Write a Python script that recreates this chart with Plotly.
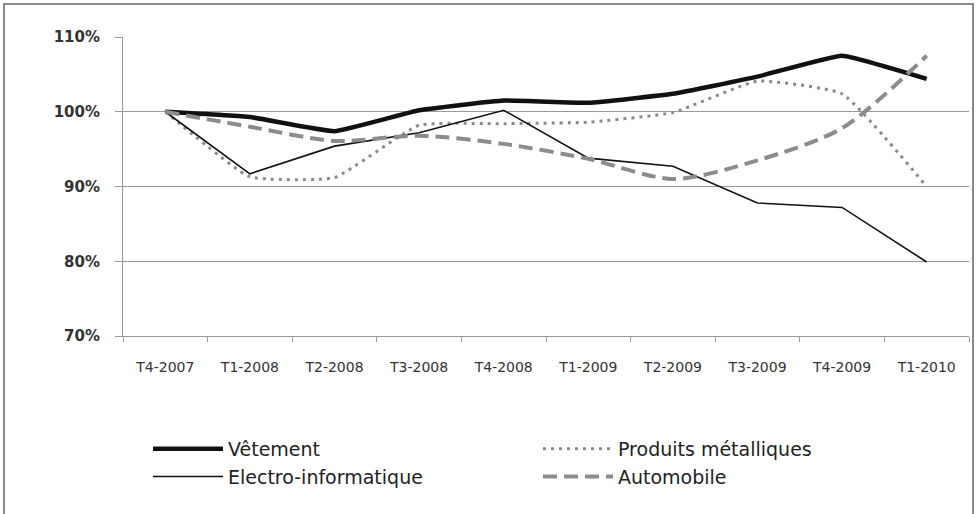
import plotly.graph_objects as go

quarters = ["T4-2007", "T1-2008", "T2-2008", "T3-2008", "T4-2008",
            "T1-2009", "T2-2009", "T3-2009", "T4-2009", "T1-2010"]

vetement = [100.0, 99.3, 97.4, 100.2, 101.5, 101.2, 102.4, 104.7, 107.5, 104.4]
produits_metalliques = [100.0, 91.3, 91.2, 98.2, 98.4, 98.6, 99.9, 104.1, 102.4, 90.0]
electro_informatique = [100.0, 91.7, 95.4, 97.2, 100.2, 93.8, 92.7, 87.8, 87.2, 79.9]
automobile = [100.0, 98.0, 96.1, 96.8, 95.7, 93.7, 91.0, 93.5, 97.8, 107.5]

y_ticks = [70, 80, 90, 100, 110]
y_tick_labels = ["70%", "80%", "90%", "100%", "110%"]

fig = go.Figure()
fig.add_trace(go.Scatter(x=quarters, y=vetement, name="Vêtement", mode="lines",
                         line=dict(color="#111111", width=4.5, shape="spline", smoothing=0.3)))
fig.add_trace(go.Scatter(x=quarters, y=produits_metalliques, name="Produits métalliques", mode="lines",
                         line=dict(color="#8a8a8a", width=3, dash="3px,5px", shape="spline", smoothing=0.4)))
fig.add_trace(go.Scatter(x=quarters, y=electro_informatique, name="Electro-informatique", mode="lines",
                         line=dict(color="#111111", width=1.6)))
fig.add_trace(go.Scatter(x=quarters, y=automobile, name="Automobile", mode="lines",
                         line=dict(color="#8c8c8c", width=4, dash="14px,7px", shape="spline", smoothing=0.8)))

# plot area: left 123, right 969, top 37, bottom 336 (px)
L, R, T, B = 123, 969, 37, 336
W, H = R - L, B - T

fig.add_shape(type="rect", xref="paper", yref="paper",
              x0=(4 - L) / W, x1=(973 - L) / W, y0=(B - 530) / H, y1=(B - 4) / H,
              line=dict(color="#8a8a8a", width=2), fillcolor="rgba(0,0,0,0)", layer="below")

fig.update_layout(
    width=976, height=514,
    margin=dict(l=L, r=976 - R, t=T, b=514 - B, autoexpand=False),
    paper_bgcolor="white", plot_bgcolor="white",
    showlegend=True,
    legend=dict(orientation="h", x=(148 - L) / W, xanchor="left",
                y=(B - 430) / H, yanchor="top",
                entrywidth=305, entrywidthmode="pixels",
                itemwidth=70,
                font=dict(family="DejaVu Sans", size=19, color="#222222"),
                bgcolor="rgba(0,0,0,0)", tracegroupgap=0),
    xaxis=dict(type="category", showgrid=False, showline=True, linecolor="#9a9a9a", linewidth=1,
               ticks="outside", tickson="boundaries", ticklen=5, tickcolor="#9a9a9a",
               ticklabelstandoff=18,
               tickfont=dict(family="DejaVu Sans", size=14, color="#333333"),
               range=[-0.5, 9.5], zeroline=False),
    yaxis=dict(range=[70, 110], tickvals=y_ticks, ticktext=y_tick_labels,
               showgrid=True, gridcolor="#9a9a9a", gridwidth=1,
               showline=True, linecolor="#9a9a9a", linewidth=1,
               ticks="outside", ticklen=7, tickcolor="#9a9a9a",
               ticklabelstandoff=12, zeroline=False,
               tickfont=dict(family="DejaVu Sans", size=15, color="#333333", weight="bold")),
)

fig.write_html("out.html",
               config={"displayModeBar": False},
               post_script="document.body.style.margin='0px';document.body.style.overflow='hidden';")
